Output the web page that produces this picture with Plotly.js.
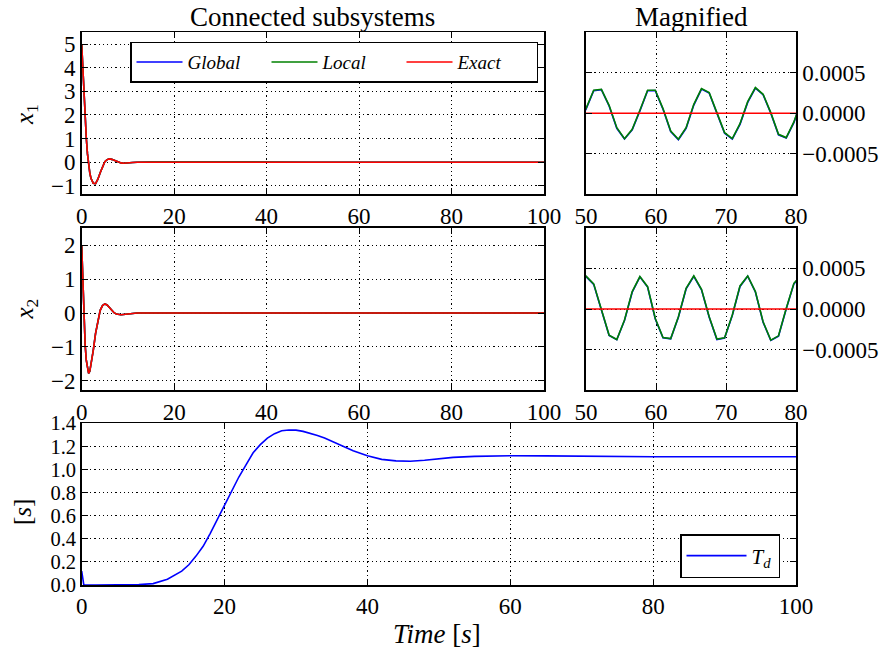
<!DOCTYPE html>
<html>
<head>
<meta charset="utf-8">
<script src="https://cdn.plot.ly/plotly-3.0.1.min.js"></script>
<style>html,body{margin:0;padding:0;background:#fff;}#chart{width:893px;height:651px;}</style>
</head>
<body>
<div id="chart"></div>
<script>
// ---------- data ----------
var tEarly = [0, 0.25, 0.5, 0.75, 1, 1.25, 1.5, 1.75, 2, 2.5, 3, 3.5, 4, 4.5, 5, 5.5, 6, 6.5, 7, 7.5, 8, 8.5, 9, 9.5, 10, 11, 12, 13, 14, 15];
var x1Early = [5.0, 3.9, 2.8, 1.8, 1.0, 0.35, -0.1, -0.45, -0.68, -0.89, -0.91, -0.72, -0.45, -0.2, 0.02, 0.11, 0.14, 0.12, 0.08, 0.04, 0.0, -0.03, -0.045, -0.045, -0.035, -0.015, 0.0, 0.005, 0.004, 0.002];
var x1ExactEarly = [5.0, 3.9, 2.8, 1.8, 1.0, 0.35, -0.1, -0.45, -0.68, -0.89, -0.91, -0.72, -0.45, -0.2, 0.02, 0.11, 0.14, 0.12, 0.08, 0.04, 0.0, -0.03, -0.045, -0.045, -0.035, -0.015, 0.0, 0.0, 0.0, 0.0];
var x2Early = [2.0, 0.9, -0.2, -0.95, -1.4, -1.68, -1.78, -1.72, -1.55, -1.1, -0.6, -0.2, 0.08, 0.22, 0.27, 0.24, 0.16, 0.08, 0.01, -0.03, -0.05, -0.05, -0.04, -0.03, -0.02, -0.005, 0.0, 0.003, 0.002, 0.001];
var x2ExactEarly = [2.0, 0.9, -0.2, -0.95, -1.4, -1.68, -1.78, -1.72, -1.55, -1.1, -0.6, -0.2, 0.08, 0.22, 0.27, 0.24, 0.16, 0.08, 0.01, -0.03, -0.05, -0.05, -0.04, -0.03, -0.02, -0.005, 0.0, 0.0, 0.0, 0.0];

var tMag = [50.0, 51.1, 52.2, 53.3, 54.4, 55.5, 56.6, 57.7, 58.8, 59.9, 61.0, 62.1, 63.2, 64.3, 65.4, 66.5, 67.6, 68.7, 69.8, 70.9, 72.0, 73.1, 74.2, 75.3, 76.4, 77.5, 78.6, 79.7, 80.8];
var x1LocalMag = [0.00006, 0.000284, 0.000296, 0.000099, -0.000177, -0.000313, -0.000198, 0.000037, 0.000284, 0.000284, 0.000058, -0.000218, -0.000321, -0.000177, 0.000111, 0.000305, 0.000255, 0.000008, -0.000239, -0.000313, -0.000128, 0.000144, 0.000317, 0.000235, 0.000008, -0.000259, -0.000300, -0.000107, 0.000170];
var x1GlobalMag = [0.00005, 0.000278, 0.000292, 0.000090, -0.000185, -0.000318, -0.000205, 0.000028, 0.000278, 0.000280, 0.000050, -0.000226, -0.000326, -0.000185, 0.000102, 0.000299, 0.000250, 0.000000, -0.000247, -0.000318, -0.000136, 0.000135, 0.000311, 0.000230, 0.000000, -0.000266, -0.000305, -0.000115, 0.000160];
var x2LocalMag = [0.000405, 0.000309, -0.000005, -0.000321, -0.000375, -0.000136, 0.000214, 0.000399, 0.000275, -0.000116, -0.000350, -0.000363, -0.000095, 0.000254, 0.000407, 0.000242, -0.000095, -0.000370, -0.000354, -0.000074, 0.000284, 0.000407, 0.000214, -0.000157, -0.000383, -0.000330, 0.000007, 0.000316, 0.000420];
var x2GlobalMag = [0.000400, 0.000303, -0.000012, -0.000326, -0.000378, -0.000142, 0.000207, 0.000395, 0.000270, -0.000123, -0.000355, -0.000366, -0.000101, 0.000247, 0.000403, 0.000237, -0.000102, -0.000375, -0.000357, -0.000080, 0.000277, 0.000403, 0.000209, -0.000164, -0.000387, -0.000334, 0.000000, 0.000309, 0.000414];

var tEnd = [100];
var xEnd = [0];

var tTd = [0, 0.3, 2, 5, 8, 10, 12, 14, 15, 16, 17, 18, 19, 20, 21, 22, 23, 24, 25, 26, 27, 28, 29, 30, 31, 32, 33, 34, 36, 38, 40, 42, 44, 46, 48, 50, 52, 55, 58, 60, 65, 70, 75, 80, 90, 100];
var tdVals = [0.12, 0.0, 0.0, 0.0, 0.003, 0.012, 0.05, 0.12, 0.175, 0.25, 0.335, 0.447, 0.567, 0.69, 0.815, 0.935, 1.04, 1.145, 1.215, 1.272, 1.31, 1.335, 1.342, 1.341, 1.33, 1.314, 1.295, 1.272, 1.215, 1.162, 1.119, 1.088, 1.075, 1.072, 1.08, 1.094, 1.105, 1.114, 1.118, 1.119, 1.118, 1.115, 1.112, 1.11, 1.11, 1.11];

var seriesNames = ['<i>Global</i>', '<i>Local</i>', '<i>Exact</i>'];
var seriesColors = ['#0000ff', '#008000', '#ff0000'];

// ---------- build ----------
var tFull = tEarly.concat(tMag, tEnd);
var tExact = tEarly.concat(tEnd);
var x1Global = x1Early.concat(x1GlobalMag, xEnd);
var x1Local = x1Early.concat(x1LocalMag, xEnd);
var x1Exact = x1ExactEarly.concat(xEnd);
var x2Global = x2Early.concat(x2GlobalMag, xEnd);
var x2Local = x2Early.concat(x2LocalMag, xEnd);
var x2Exact = x2ExactEarly.concat(xEnd);

var traces = [];
function addSet(xa, ya, g, l, e, legend) {
  var ys = [g, l, e];
  var xs = [tFull, tFull, tExact];
  for (var i = 0; i < 3; i++) {
    traces.push({
      x: xs[i], y: ys[i], type: 'scatter', mode: 'lines',
      name: seriesNames[i], xaxis: xa, yaxis: ya,
      line: {color: seriesColors[i], width: 1.6},
      showlegend: legend, legend: 'legend', hoverinfo: 'skip'
    });
  }
}
addSet('x', 'y', x1Global, x1Local, x1Exact, true);
addSet('x2', 'y2', x1Global, x1Local, x1Exact, false);
addSet('x3', 'y3', x2Global, x2Local, x2Exact, false);
addSet('x4', 'y4', x2Global, x2Local, x2Exact, false);
traces.push({
  x: tTd, y: tdVals, type: 'scatter', mode: 'lines', name: '<i>T<sub>d</sub></i>',
  xaxis: 'x5', yaxis: 'y5', line: {color: '#0000ff', width: 1.6},
  showlegend: true, legend: 'legend2', hoverinfo: 'skip'
});

var FONT = '"Liberation Serif", "DejaVu Serif", serif';
var TICKSIZE = 23;
function ax(extra) {
  var base = {
    showline: true, linecolor: '#000', linewidth: 1.6, mirror: 'allticks',
    ticks: 'inside', ticklen: 6, tickwidth: 1, tickcolor: '#000',
    showgrid: true, gridcolor: '#000', gridwidth: 1, griddash: '1.2px,3px',
    zeroline: false,
    tickfont: {family: FONT, size: TICKSIZE, color: '#000'},
    fixedrange: true
  };
  for (var k in extra) base[k] = extra[k];
  return base;
}
var W = 893, H = 651;
function dx(a, b) { return [a / W, b / W]; }
function dy(top, bottom) { return [(H - bottom) / H, (H - top) / H]; }

var leftX = dx(81.7, 544), magX = dx(586, 796), wideX = dx(81.7, 796);
var row1 = dy(32.3, 194.3), row2 = dy(227.7, 390.3), row3 = dy(423.3, 585);

var layout = {
  width: W, height: H,
  margin: {l: 0, r: 0, t: 0, b: 0},
  paper_bgcolor: '#fff', plot_bgcolor: '#fff',
  font: {family: FONT, size: TICKSIZE, color: '#000'},
  xaxis: ax({domain: leftX, range: [0, 100], dtick: 20, anchor: 'y'}),
  yaxis: ax({domain: row1, range: [-1.36, 5.5], dtick: 1, anchor: 'x'}),
  xaxis2: ax({domain: magX, range: [50, 80], dtick: 10, anchor: 'y2'}),
  yaxis2: ax({domain: row1, range: [-0.001, 0.001], tickvals: [-0.0005, 0, 0.0005], tickformat: '.4f', side: 'right', anchor: 'x2'}),
  xaxis3: ax({domain: leftX, range: [0, 100], dtick: 20, anchor: 'y3'}),
  yaxis3: ax({domain: row2, range: [-2.28, 2.52], dtick: 1, anchor: 'x3'}),
  xaxis4: ax({domain: magX, range: [50, 80], dtick: 10, anchor: 'y4'}),
  yaxis4: ax({domain: row2, range: [-0.001, 0.001], tickvals: [-0.0005, 0, 0.0005], tickformat: '.4f', side: 'right', anchor: 'x4'}),
  xaxis5: ax({domain: wideX, range: [0, 100], dtick: 20, anchor: 'y5'}),
  yaxis5: ax({domain: row3, range: [0, 1.4], dtick: 0.2, tickformat: '.1f', anchor: 'x5',
              tickfont: {family: FONT, size: 20.5, color: '#000'}}),
  legend: {
    orientation: 'h', x: 130 / W, xanchor: 'left', y: (H - 41.7) / H, yanchor: 'top',
    bgcolor: '#fff', bordercolor: '#000', borderwidth: 1.5,
    font: {family: FONT, size: 19, color: '#000'},
    itemwidth: 46, entrywidth: 74, entrywidthmode: 'pixels'
  },
  legend2: {
    orientation: 'h', x: 680 / W, xanchor: 'left', y: (H - 534) / H, yanchor: 'top',
    bgcolor: '#fff', bordercolor: '#000', borderwidth: 1.5,
    font: {family: FONT, size: 21, color: '#000'},
    itemwidth: 60, entrywidth: 22, entrywidthmode: 'pixels'
  },
  annotations: [
    {text: 'Connected subsystems', x: 312 / W, y: (H - 17) / H, xref: 'paper', yref: 'paper', showarrow: false, xanchor: 'center', yanchor: 'middle', font: {family: FONT, size: 27, color: '#000'}},
    {text: 'Magnified', x: 691 / W, y: (H - 17) / H, xref: 'paper', yref: 'paper', showarrow: false, xanchor: 'center', yanchor: 'middle', font: {family: FONT, size: 27, color: '#000'}},
    {text: '<i>x</i><sub>1</sub>', x: 26 / W, y: (H - 115) / H, xref: 'paper', yref: 'paper', showarrow: false, textangle: -90, xanchor: 'center', yanchor: 'middle', font: {family: FONT, size: 25, color: '#000'}},
    {text: '<i>x</i><sub>2</sub>', x: 26 / W, y: (H - 309.5) / H, xref: 'paper', yref: 'paper', showarrow: false, textangle: -90, xanchor: 'center', yanchor: 'middle', font: {family: FONT, size: 25, color: '#000'}},
    {text: '[<i>s</i>]', x: 22 / W, y: (H - 512) / H, xref: 'paper', yref: 'paper', showarrow: false, textangle: -90, xanchor: 'center', yanchor: 'middle', font: {family: FONT, size: 25, color: '#000'}},
    {text: '<i>Time</i> [<i>s</i>]', x: 437 / W, y: (H - 634) / H, xref: 'paper', yref: 'paper', showarrow: false, xanchor: 'center', yanchor: 'middle', font: {family: FONT, size: 27, color: '#000'}}
  ]
};

Plotly.newPlot('chart', traces, layout, {staticPlot: true, displayModeBar: false});
</script>
</body>
</html>
